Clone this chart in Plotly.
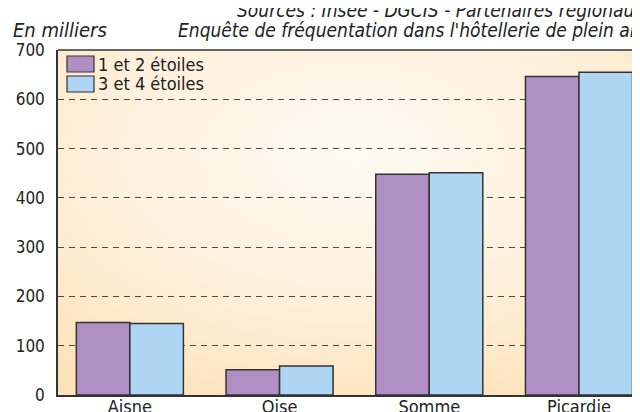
import base64
import plotly.graph_objects as go

categories = ["Aisne", "Oise", "Somme", "Picardie"]
series_names = ["1 et 2 étoiles", "3 et 4 étoiles"]
values_12 = [147, 51, 448, 646]
values_34 = [145, 59, 451, 655]
colors = ["#b08fc4", "#aed5f1"]
y_ticks = [0, 100, 200, 300, 400, 500, 600, 700]

FONT = "Liberation Sans Narrow, DejaVu Sans Condensed, Roboto Condensed, Arial Narrow, sans-serif"
EDGE = "#333333"

# layout geometry (pixels)
W, H = 640, 412
ML, MR, MT, MB = 50, 0, 42, 25
PW, PH = W - ML - MR, H - MT - MB


def px(x):
    return (x - ML) / PW


def py(y):
    return (H - MB - y) / PH


svg = """<svg xmlns='http://www.w3.org/2000/svg' width='600' height='350' viewBox='0 0 600 350' preserveAspectRatio='none'>
<defs><radialGradient id='g' cx='0.5' cy='0.3' r='0.8'>
<stop offset='0' stop-color='#fffaf3'/><stop offset='0.55' stop-color='#fef0da'/><stop offset='1' stop-color='#fde2b8'/>
</radialGradient></defs><rect width='600' height='350' fill='url(#g)'/></svg>"""
bg_src = "data:image/svg+xml;base64," + base64.b64encode(svg.encode()).decode()

fig = go.Figure()
for name, vals, col in zip(series_names, [values_12, values_34], colors):
    fig.add_trace(go.Bar(
        x=categories, y=vals, name=name, showlegend=False,
        marker=dict(color=col, line=dict(color=EDGE, width=1.5)),
    ))

# custom legend (swatch + label) in the top-left corner of the plot
shapes = [dict(type="line", xref="paper", yref="paper", x0=0, x1=1, y0=1, y1=1,
               line=dict(color=EDGE, width=1.5))]
annotations = []
for i, (name, col) in enumerate(zip(series_names, colors)):
    top = 48 + i * 20
    shapes.append(dict(type="rect", xref="paper", yref="paper",
                       x0=px(59), x1=px(86), y0=py(top + 16), y1=py(top),
                       fillcolor=col, line=dict(color=EDGE, width=1.2)))
    annotations.append(dict(text=name, xref="paper", yref="paper",
                            x=px(88), y=py(top + 8), xanchor="left", yanchor="middle",
                            showarrow=False, font=dict(family=FONT, size=18, color="#222")))

annotations += [
    dict(text="<i>En milliers</i>", xref="paper", yref="paper", x=px(3), y=py(22),
         xanchor="left", yanchor="middle", showarrow=False,
         font=dict(family=FONT, size=20, color="#222")),
    dict(text="<i>Sources : Insee - DGCIS - Partenaires régionaux -</i>", xref="paper", yref="paper",
         x=px(650), y=py(2), xanchor="right", yanchor="middle", showarrow=False,
         font=dict(family=FONT, size=19, color="#222")),
    dict(text="<i>Enquête de fréquentation dans l'hôtellerie de plein air</i>", xref="paper", yref="paper",
         x=px(637), y=py(22), xanchor="right", yanchor="middle", showarrow=False,
         font=dict(family=FONT, size=19, color="#222")),
]

fig.update_layout(
    width=W, height=H,
    margin=dict(l=ML, r=MR, t=MT, b=MB, autoexpand=False),
    paper_bgcolor="white",
    plot_bgcolor="rgba(0,0,0,0)",
    barmode="group", bargap=0.285, bargroupgap=0,
    font=dict(family=FONT, size=17, color="#222"),
    showlegend=False,
    images=[dict(source=bg_src, xref="paper", yref="paper", x=0, y=1,
                 sizex=1, sizey=1, xanchor="left", yanchor="top",
                 sizing="stretch", layer="below")],
    xaxis=dict(
        range=[-0.48, 3.461], showgrid=False, zeroline=False, automargin=False,
        showline=True, linecolor=EDGE, linewidth=1.5,
        ticks="", ticklabelstandoff=-5,
        tickfont=dict(family=FONT, size=18, color="#222"),
    ),
    yaxis=dict(
        range=[0, 700], tickvals=y_ticks, showgrid=True, automargin=False,
        gridcolor="#4a4a4a", gridwidth=1, griddash="6px,5px",
        zeroline=False, showline=True, linecolor=EDGE, linewidth=1.5,
        ticks="", ticklabelstandoff=8,
        tickfont=dict(family=FONT, size=17, color="#222"),
    ),
    shapes=shapes,
    annotations=annotations,
)

fig.write_html("out.html")
